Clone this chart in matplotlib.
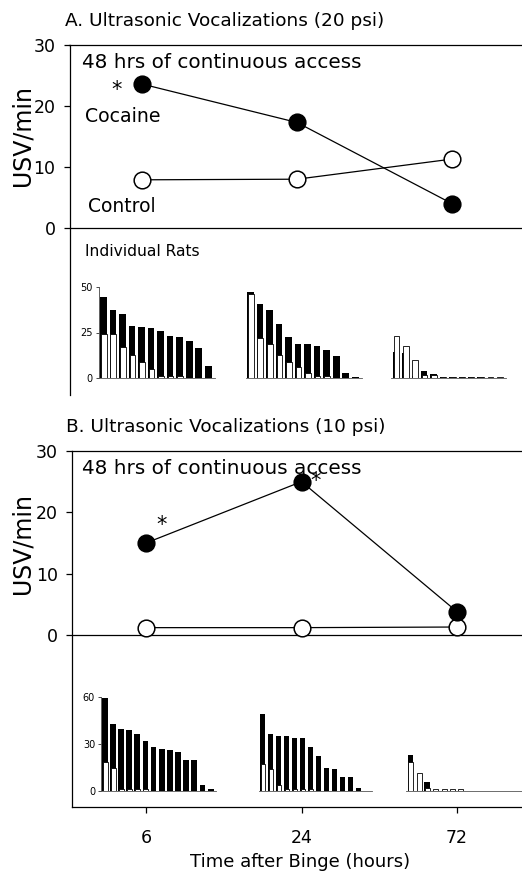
import matplotlib
matplotlib.use("Agg")
import matplotlib.pyplot as plt
import numpy as np

plt.rcParams['font.family'] = ['DejaVu Sans']

W, H = 522, 874
times = ["6", "24", "72"]

# Panel A (20 psi) group means
a_cocaine = [23.6, 17.3, 4.0]
a_control = [7.9, 8.0, 11.3]
# Panel B (10 psi) group means
b_cocaine = [15.0, 25.0, 3.8]
b_control = [1.2, 1.2, 1.3]

# Individual rats, panel A (black = cocaine, white = control)
a_rats_black = [
    [44.4, 37.1, 35.1, 28.7, 28.0, 27.4, 26.0, 23.2, 22.5, 20.3, 16.5, 6.4],
    [47.5, 40.4, 37.5, 29.8, 22.5, 18.6, 18.6, 17.7, 15.5, 12.2, 2.9, 0.6],
    [14.1, 13.7, 1.0, 3.7, 2.2, 0.6, 0.6, 0.6, 0.6, 0.4, 0.2, 0.2],
]
a_rats_white = [
    [24.0, 24.0, 17.0, 12.8, 8.8, 5.1, 1.1, 0.9, 0.9, 0.0, 0.0, 0.0],
    [46.4, 22.1, 18.8, 12.8, 8.8, 6.2, 2.9, 0.9, 1.1, 0.0, 0.0, 0.0],
    [22.9, 17.7, 9.9, 1.8, 1.6, 0.8, 0.8, 0.8, 0.8, 0.8, 0.3, 0.3],
]
# Individual rats, panel B
b_rats_black = [
    [59.2, 42.7, 39.5, 39.1, 36.1, 31.6, 28.0, 27.1, 25.9, 25.2, 19.9, 19.9, 3.6, 1.0],
    [49.1, 36.3, 35.3, 35.0, 33.8, 33.8, 27.8, 22.2, 15.0, 13.9, 9.2, 9.0, 1.7, 0.0],
    [22.9, 0.0, 5.8, 0.0, 0.0, 0.0, 0.0, 0.0, 0.0, 0.0, 0.0, 0.0, 0.0, 0.0],
]
b_rats_white = [
    [18.6, 15.0, 1.0, 1.0, 1.0, 1.0, 0.0, 0.0, 0.0, 0.0, 0.0, 0.0, 0.0, 0.0],
    [17.1, 13.9, 3.8, 1.0, 1.0, 1.0, 1.0, 0.0, 0.0, 0.0, 0.0, 0.0, 0.0, 0.0],
    [18.6, 11.8, 2.1, 1.1, 1.1, 1.1, 1.1, 0.0, 0.0, 0.0, 0.0, 0.0, 0.0, 0.0],
]

fig = plt.figure(figsize=(W / 100, H / 100), dpi=100)


def px_axes(left, top, right, bottom):
    return fig.add_axes([left / W, 1 - bottom / H, (right - left) / W, (bottom - top) / H])


def ftext(x, y, s, **kw):
    fig.text(x / W, 1 - y / H, s, **kw)


def main_axes(left, top, bottom, zero_y, p0, pitch, bottom_axis):
    ax = px_axes(left, top, 545, bottom)
    ppu = (zero_y - top) / 30.0
    ax.set_xlim((left - p0) / pitch, (545 - p0) / pitch)
    ax.set_ylim(-(bottom - zero_y) / ppu, 30)
    ax.spines['right'].set_visible(False)
    ax.spines['bottom'].set_visible(bottom_axis)
    for s in ax.spines.values():
        s.set_linewidth(0.9)
    ax.set_yticks([0, 10, 20, 30])
    ax.tick_params(axis='y', labelsize=12.5, length=4, width=0.9, pad=6)
    ax.axhline(0, color='black', lw=0.9)
    if bottom_axis:
        ax.set_xticks([0, 1, 2])
        ax.set_xticklabels(times)
        ax.tick_params(axis='x', labelsize=12.5, length=4, width=0.9, pad=12)
    else:
        ax.set_xticks([])
    return ax


def draw_lines(ax, coc, ctl):
    x = np.arange(3)
    ax.plot(x, ctl, '-o', color='black', lw=0.9, ms=12, mfc='white', mec='black', mew=1.1, zorder=3)
    ax.plot(x, coc, '-o', color='black', lw=0.9, ms=12, mfc='black', mec='black', mew=1.1, zorder=4)


def rat_group(first_center, pitch, top, bottom, ymax, black, white, yaxis=False, ticks=None):
    n = len(black)
    lo = -0.5
    hi = n - 0.3
    axl = first_center + lo * pitch
    axr = first_center + hi * pitch
    ax = px_axes(axl, top, axr, bottom)
    ax.set_xlim(lo, hi)
    ax.set_ylim(0, ymax)
    x = np.arange(n)
    ax.bar(x, black, width=0.7, color='black', edgecolor='none', zorder=2)
    ax.bar(x + 0.05, white, width=0.6, color='white', edgecolor='black', linewidth=0.6, zorder=3)
    for s in ['top', 'right']:
        ax.spines[s].set_visible(False)
    ax.spines['bottom'].set_color('#555555')
    ax.spines['bottom'].set_linewidth(0.6)
    ax.set_xticks([])
    ax.patch.set_alpha(0)
    if yaxis:
        ax.spines['left'].set_linewidth(0.6)
        ax.spines['left'].set_color('#444444')
        ax.set_yticks(ticks)
        ax.tick_params(axis='y', labelsize=7, length=2, width=0.5, pad=2)
    else:
        ax.spines['left'].set_visible(False)
        ax.set_yticks([])
    return ax


# ---------- Panel A ----------
axA = main_axes(69.5, 45, 395, 228, 142, 155, False)
draw_lines(axA, a_cocaine, a_control)
ftext(65, 21, "A. Ultrasonic Vocalizations (20 psi)", fontsize=13.3, va='center', ha='left')
ftext(82, 63, "48 hrs of continuous access", fontsize=14.4, va='center', ha='left')
ftext(117, 90, "*", fontsize=15, va='center', ha='center')
ftext(85, 116, "Cocaine", fontsize=13.6, va='center', ha='left')
ftext(88, 207, "Control", fontsize=13.5, va='center', ha='left')
ftext(85, 252, "Individual Rats", fontsize=11.2, va='center', ha='left')
ftext(22.5, 136, "USV/min", fontsize=17, rotation=90, va='center', ha='center')

rat_group(103.3, 9.55, 287, 378, 50, a_rats_black[0], a_rats_white[0], True, [0, 25, 50])
rat_group(250.3, 9.55, 287, 378, 50, a_rats_black[1], a_rats_white[1])
rat_group(396.0, 9.4, 287, 378, 50, a_rats_black[2], a_rats_white[2])

# ---------- Panel B ----------
axB = main_axes(72, 451, 807, 635, 146, 155.5, True)
draw_lines(axB, b_cocaine, b_control)
ftext(300, 862, "Time after Binge (hours)", fontsize=13, va='center', ha='center')
ftext(66, 427, "B. Ultrasonic Vocalizations (10 psi)", fontsize=13.3, va='center', ha='left')
ftext(82, 469, "48 hrs of continuous access", fontsize=14.4, va='center', ha='left')
ftext(162, 525, "*", fontsize=15, va='center', ha='center')
ftext(316, 481, "*", fontsize=15, va='center', ha='center')
ftext(22.5, 543, "USV/min", fontsize=17, rotation=90, va='center', ha='center')

rat_group(104.7, 8.15, 697, 791, 60, b_rats_black[0], b_rats_white[0], True, [0, 30, 60])
rat_group(262.5, 8.0, 697, 791, 60, b_rats_black[1], b_rats_white[1])
rat_group(410.5, 8.3, 697, 791, 60, b_rats_black[2], b_rats_white[2])

fig.savefig("out.png", dpi=100)
